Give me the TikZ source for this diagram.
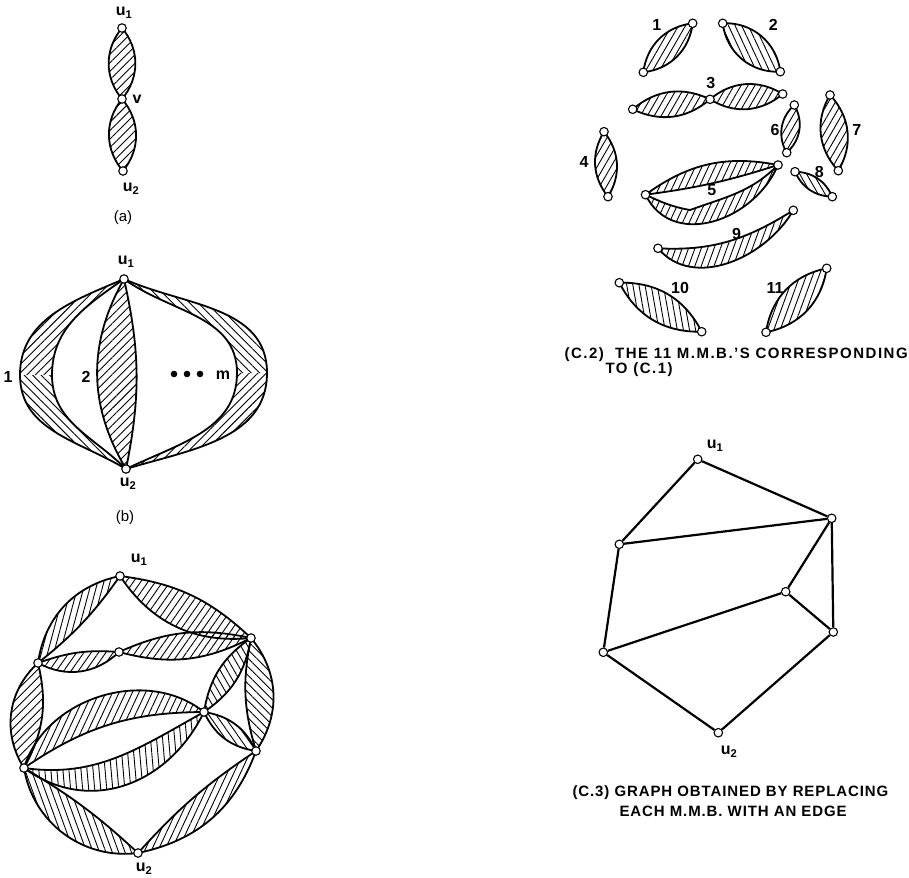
\documentclass[tikz,border=0pt]{standalone}
\usepackage{fontspec}
\setmainfont{Liberation Sans}
\usetikzlibrary{patterns.meta,backgrounds}
\begin{document}
\begin{tikzpicture}[x=1pt,y=-1pt,every node/.style={font=\fontsize{16}{16}\selectfont\bfseries},
  vx/.style={circle,draw,fill=white,inner sep=0pt,minimum size=8.5pt,line width=1.1pt},
  hatch/.style={pattern={Lines[angle=#1,distance=6pt,line width=.9pt]}},
  rim/.style={draw,line width=1.8pt,line join=round},
  mmb/.style={hatch=#1,rim},
  link/.style={line width=2.2pt},
  capt/.style={anchor=west,font=\fontsize{15}{15}\selectfont\bfseries\addfontfeature{LetterSpace=6}}]
  \useasboundingbox (0,0) rectangle (909,877);
  % (a)
  \node[vx] (a1) at (122,28) {};
  \node[vx] (av) at (122,99) {};
  \node[vx] (a2) at (123,171) {};
  \node (la1) at (124,13) {u\textsubscript{1}};
  \node (lav) at (137,99) {v};
  \node (la2) at (131,189) {u\textsubscript{2}};
  \node[font=\fontsize{15}{15}\selectfont] (capa) at (123,218) {(a)};
  % (b)
  \node[vx] (b1) at (124,279) {};
  \node[vx] (b2) at (126,469) {};
  \coordinate (bo1) at (20,375);
  \coordinate (bi1) at (52,375);
  \coordinate (bom) at (267,373);
  \coordinate (bim) at (237,373);
  \node (lb1) at (126,262) {u\textsubscript{1}};
  \node (lb2) at (128,484) {u\textsubscript{2}};
  \node (n1) at (8,377) {1};
  \node (n2) at (86,377) {2};
  \node (nm) at (223,375) {m};
  \foreach \x in {174,187,200} \fill (\x,374) circle (3.3);
  \node[font=\fontsize{15}{15}\selectfont] (capb) at (125,518) {(b)};
  % (c.1)
  \node[vx] (c1) at (120,576) {};
  \node[vx] (cA) at (38,663) {};
  \node[vx] (cB) at (119,652) {};
  \node[vx] (cC) at (251,638) {};
  \node[vx] (cD) at (204,712) {};
  \node[vx] (cE) at (256,751) {};
  \node[vx] (cF) at (24,768) {};
  \node[vx] (c2) at (138,853) {};
  \node (lc1) at (139,560) {u\textsubscript{1}};
  \node (lc2) at (144,869) {u\textsubscript{2}};
  % (c.2)
  \node[vx] (d1a) at (692.7,23.3) {};
  \node[vx] (d1b) at (643.3,72.3) {};
  \node[vx] (d2a) at (722.7,23.3) {};
  \node[vx] (d2b) at (780.3,71.7) {};
  \node[vx] (d3a) at (632.7,109.3) {};
  \node[vx] (d3b) at (710,99.3) {};
  \node[vx] (d3c) at (782.7,94) {};
  \node[vx] (d4a) at (604,131.7) {};
  \node[vx] (d4b) at (608,196.7) {};
  \node[vx] (d5a) at (645.5,194.7) {};
  \node[vx] (d5b) at (778,165) {};
  \coordinate (d5k) at (690,210);
  \node[vx] (d6a) at (794.3,105) {};
  \node[vx] (d6b) at (786.7,152.7) {};
  \node[vx] (d7a) at (830,95) {};
  \node[vx] (d7b) at (838.3,170.7) {};
  \node[vx] (d8a) at (795,171.7) {};
  \node[vx] (d8b) at (832.3,196.7) {};
  \node[vx] (d9a) at (658,248.3) {};
  \node[vx] (d9b) at (793.3,210.3) {};
  \node[vx] (d10a) at (619.3,282.7) {};
  \node[vx] (d10b) at (701.7,331.7) {};
  \node[vx] (d11a) at (826.7,268.3) {};
  \node[vx] (d11b) at (766,332.3) {};
  \node (m1) at (656.7,25) {1};
  \node (m2) at (773.3,25) {2};
  \node (m3) at (710.7,83.3) {3};
  \node (m4) at (584,162) {4};
  \node (m5) at (711.7,190) {5};
  \node (m6) at (775,130) {6};
  \node (m7) at (856.7,130) {7};
  \node (m8) at (819.3,171.7) {8};
  \node (m9) at (736.5,234) {9};
  \node (m10) at (680,288.3) {10};
  \node (m11) at (775,288.3) {11};
  \node[capt,font=\fontsize{15}{15}\selectfont\bfseries\addfontfeature{LetterSpace=10}] (capc2) at (561,355) {(C.2)\ \ THE 11 M.M.B.'S CORRESPONDING};
  \node[capt,font=\fontsize{15}{15}\selectfont\bfseries\addfontfeature{LetterSpace=10}] (capc2b) at (602,370) {TO (C.1)};
  % (c.3)
  \node[vx] (e1) at (697.7,459.3) {};
  \node[vx] (eP) at (831.7,518.3) {};
  \node[vx] (eQ) at (619.3,544.3) {};
  \node[vx] (eR) at (785.7,591.7) {};
  \node[vx] (eS) at (833.3,632) {};
  \node[vx] (eT) at (603.3,652.3) {};
  \node[vx] (e2) at (718.3,732.7) {};
  \node (le1) at (715,446) {u\textsubscript{1}};
  \node (le2) at (729,752) {u\textsubscript{2}};
  \draw[link] (e1)--(eP);
  \draw[link] (e1)--(eQ);
  \draw[link] (eQ)--(eP);
  \draw[link] (eP)--(eR);
  \draw[link] (eP)--(eS);
  \draw[link] (eQ)--(eT);
  \draw[link] (eT)--(eR);
  \draw[link] (eR)--(eS);
  \draw[link] (eT)--(e2);
  \draw[link] (e2)--(eS);
  \node[capt] (capc3) at (569,793) {(C.3)\ GRAPH OBTAINED BY REPLACING};
  \node[capt] (capc3b) at (616,811) {EACH M.M.B. WITH AN EDGE};
  \begin{scope}[on background layer]
    \draw[mmb=45] (a1.center) to[bend left=40] (av.center) to[bend left=40] (a1.center);
    \draw[mmb=45] (av.center) to[bend left=40] (a2.center) to[bend left=40] (av.center);
    \path[hatch=45] (b1.center) to[out=203,in=90] (bo1) -- (bi1) to[out=90,in=215] (b1.center);
    \path[hatch=-45] (bo1) to[out=-90,in=149] (b2.center) to[out=135,in=-90] (bi1) -- cycle;
    \draw[rim] (b1.center) to[out=203,in=90] (bo1) to[out=-90,in=149] (b2.center);
    \draw[rim] (b1.center) to[out=215,in=90] (bi1) to[out=-90,in=135] (b2.center);
    \draw[mmb=45] (b1.center) to[bend right=30] (b2.center) to[bend right=12] (b1.center);
    \path[hatch=-45] (b1.center) to[out=-24,in=90] (bom) -- (bim) to[out=90,in=-36] (b1.center);
    \path[hatch=45] (bom) to[out=-90,in=17] (b2.center) to[out=26,in=-90] (bim) -- cycle;
    \draw[rim] (b1.center) to[out=-24,in=90] (bom) to[out=-90,in=17] (b2.center);
    \draw[rim] (b1.center) to[out=-36,in=90] (bim) to[out=-90,in=26] (b2.center);
    \draw[mmb=75] (c1.center) to[bend right=35] (cA.center) to[bend right=8] (c1.center);
    \draw[mmb=55] (c1.center) to[bend left=18] (cC.center) to[bend left=31] (c1.center);
    \draw[mmb=55] (cA.center) to[bend left=12] (cB.center) to[bend left=36] (cA.center);
    \draw[mmb=55] (cB.center) to[bend left=18] (cC.center) to[bend left=21] (cB.center);
    \draw[mmb=45] (cA.center) to[bend right=40] (cF.center) to[bend right=21] (cA.center);
    \draw[mmb=65] (cF.center) to[bend left=56] (cD.center) to[bend right=17] (cF.center);
    \draw[mmb=95] (cF.center) to[out=-8,in=209] (cD.center) to[out=-116,in=-36,looseness=1.1] (cF.center);
    \draw[mmb=120] (cC.center) to[bend left=23] (cD.center) to[bend left=23] (cC.center);
    \draw[mmb=135] (cC.center) to[bend left=37] (cE.center) to[bend left=14] (cC.center);
    \draw[mmb=125] (cD.center) to[bend left=28] (cE.center) to[bend left=28] (cD.center);
    \draw[mmb=110] (cF.center) to[bend right=44] (c2.center) to[bend right=6] (cF.center);
    \draw[mmb=65] (c2.center) to[bend right=29] (cE.center) to[bend right=7] (c2.center);
    \draw[mmb=60] (d1a.center) to[bend left=38] (d1b.center) to[bend left=38] (d1a.center);
    \draw[mmb=115] (d2a.center) to[bend left=43] (d2b.center) to[bend left=43] (d2a.center);
    \draw[mmb=60] (d3a.center) to[bend left=33] (d3b.center) to[bend left=33] (d3a.center);
    \draw[mmb=60] (d3b.center) to[bend left=36] (d3c.center) to[bend left=36] (d3b.center);
    \draw[mmb=60] (d4a.center) to[bend left=35] (d4b.center) to[bend left=35] (d4a.center);
    \draw[mmb=65] (d5a.center) to[out=36,in=169] (d5b.center) to[bend left=5] (d5a.center);
    \draw[mmb=65] (d5a.center) to[out=-25,in=170] (d5k) to[out=20,in=-135] (d5b.center) to[out=-113,in=-64,looseness=1.15] (d5a.center);
    \draw[mmb=60] (d6a.center) to[bend left=39] (d6b.center) to[bend left=39] (d6a.center);
    \draw[mmb=60] (d7a.center) to[bend left=37] (d7b.center) to[bend left=37] (d7a.center);
    \draw[mmb=120] (d8a.center) to[bend left=32] (d8b.center) to[bend left=32] (d8a.center);
    \draw[mmb=70] (d9a.center) to[out=-3,in=-148] (d9b.center) to[out=-120,in=-50] (d9a.center);
    \draw[mmb=100] (d10a.center) to[bend left=32] (d10b.center) to[bend left=32] (d10a.center);
    \draw[mmb=70] (d11a.center) to[bend left=35] (d11b.center) to[bend left=35] (d11a.center);
  \end{scope}
\end{tikzpicture}
\end{document}
